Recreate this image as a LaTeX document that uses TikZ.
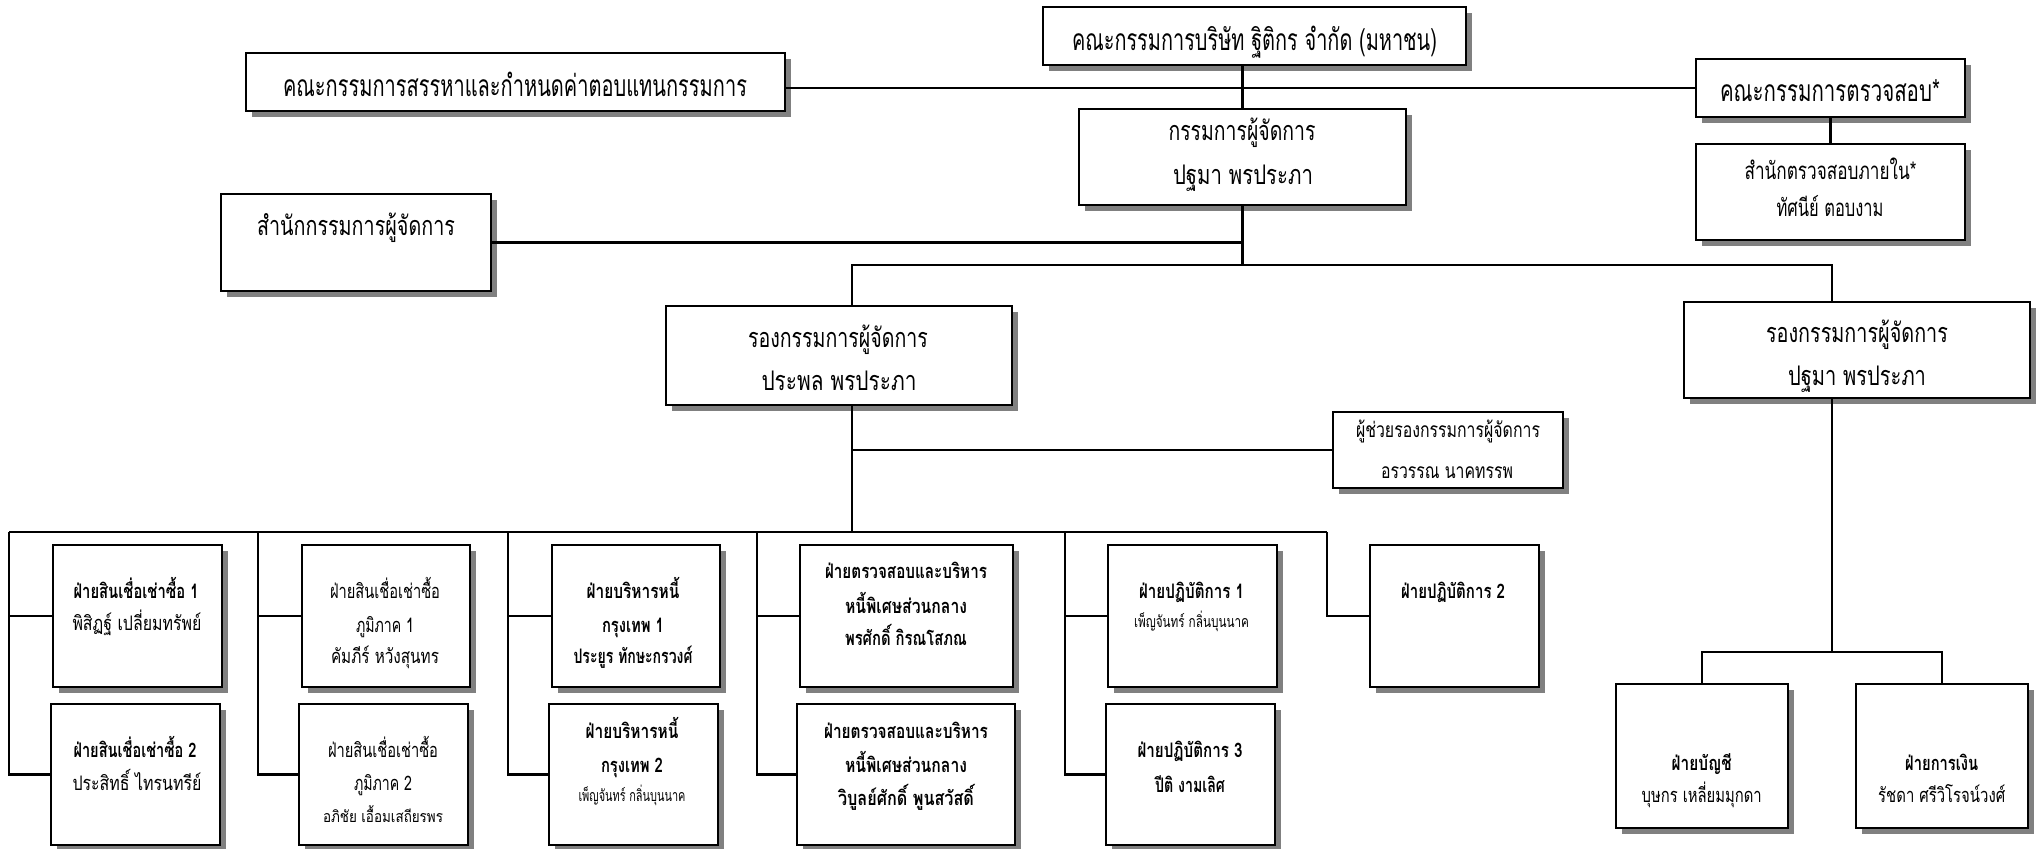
\documentclass[tikz,border=0pt]{standalone}
\usepackage{fontspec}
\usepackage{graphicx}
\usetikzlibrary{shadows}
\newfontfamily\thf[Script=Thai]{Loma}
\newsavebox\tbx
\newlength\tbw
\newcommand\fitto[2]{\sbox\tbx{#2}\setlength\tbw{\wd\tbx}\pgfmathsetmacro\fitr{(#1)/\tbw}\scalebox{\fitr}[1]{\usebox\tbx}}
\newcommand\fA{\thf\fontsize{15}{17}\selectfont}
\newcommand\fB{\thf\fontsize{13.5}{16}\selectfont}
\newcommand\fC{\thf\fontsize{12}{14}\selectfont}
\newcommand\fD{\thf\fontsize{10.5}{12}\selectfont}
\newcommand\fE{\thf\fontsize{10}{12}\selectfont}
\newcommand\fEb{\thf\bfseries\fontsize{10}{12}\selectfont}
\newcommand\fS{\thf\fontsize{8}{10}\selectfont}
\tikzset{
  box/.style={draw, line width=1.3pt, fill=white, inner sep=0pt, outer sep=0pt,
    drop shadow={shadow xshift=3pt, shadow yshift=-3pt, fill=black!50, opacity=1}},
  lbl/.style={inner sep=0pt, outer sep=0pt, anchor=base},
  conn/.style={line width=1.1pt}
}
\begin{document}
\begin{tikzpicture}[x=0.5pt,y=-0.5pt]
\useasboundingbox (0,0) rectangle (2038,848);
% junction coordinates
\coordinate (brL) at (852,265);
\coordinate (brR) at (1832,265);
\coordinate (barC) at (852,532);
\coordinate (cA) at (9,532);
\coordinate (cB) at (258,532);
\coordinate (cC) at (508,532);
\coordinate (cD) at (757,532);
\coordinate (cF) at (1065,532);
\coordinate (cG) at (1327,532);
\coordinate (eJ) at (1832,652);
% boxes (positions)
\path
 (1254.5,36) node[box, minimum width=211.5pt, minimum height=29pt] (board) {}
 (515.5,82) node[box, minimum width=269.5pt, minimum height=29pt] (nom) {}
 (1830.5,88) node[box, minimum width=134.5pt, minimum height=29pt] (aud) {}
 (1830.5,192) node[box, minimum width=134.5pt, minimum height=48pt] (int) {}
 (1242.5,157) node[box, minimum width=163.5pt, minimum height=48pt] (md) {}
 (356,242.5) node[box, minimum width=135pt, minimum height=48.5pt] (off) {}
 (839,355.5) node[box, minimum width=173pt, minimum height=49.5pt] (vpl) {}
 (1857,350) node[box, minimum width=173pt, minimum height=48pt] (vpr) {}
 (1448,450) node[box, minimum width=115pt, minimum height=38pt] (asst) {};
% connectors (drawn before lower boxes)
\draw[conn] (md.north) -- (md.north |- board.south);
\draw[conn] (nom.east |- aud.west) -- (aud.west);
\draw[conn] (aud.south) -- (int.north);
\draw[conn] (md.south) -- (md.south |- brL);
\draw[conn] (off.east) -- (off.east -| md.south);
\draw[conn] (brL |- vpl.north) -- (brL) -- (brR) -- (brR |- vpr.north);
\draw[conn] (brL |- vpl.south) -- (barC);
\draw[conn] (asst.west -| barC) -- (asst.west);
\draw[conn] (cA) -- (cG);
\draw[conn] (vpr.south -| brR) -- (eJ);
% lower boxes
\path
 (137.5,616) node[box, minimum width=84.5pt, minimum height=71pt] (a1) {}
 (135.5,774.5) node[box, minimum width=84.5pt, minimum height=70.5pt] (a2) {}
 (386,616) node[box, minimum width=84pt, minimum height=71pt] (b1) {}
 (383.5,774.5) node[box, minimum width=84.5pt, minimum height=70.5pt] (b2) {}
 (636,616) node[box, minimum width=84pt, minimum height=71pt] (c1) {}
 (633.5,774.5) node[box, minimum width=84.5pt, minimum height=70.5pt] (c2) {}
 (906.5,616) node[box, minimum width=106.5pt, minimum height=71pt] (d1) {}
 (906,774.5) node[box, minimum width=109pt, minimum height=70.5pt] (d2) {}
 (1192.5,616) node[box, minimum width=84.5pt, minimum height=71pt] (f1) {}
 (1190.5,774.5) node[box, minimum width=84.5pt, minimum height=70.5pt] (f2) {}
 (1454.5,616) node[box, minimum width=84.5pt, minimum height=71pt] (g) {}
 (1702,756) node[box, minimum width=86pt, minimum height=72pt] (e1) {}
 (1942,756) node[box, minimum width=86pt, minimum height=72pt] (e2) {};
% column connectors
\foreach \c/\u/\l in {cA/a1/a2, cB/b1/b2, cC/c1/c2, cD/d1/d2, cF/f1/f2}{
  \draw[conn] (\c) -- (\c |- \l.west) -- (\l.west);
  \draw[conn] (\c |- \u.west) -- (\u.west);
}
\draw[conn] (cG) -- (cG |- g.west) -- (g.west);
\draw[conn] (e1.north) -- (e1.north |- eJ) -- (e2.north |- eJ) -- (e2.north);
% texts
\node[lbl] (t-board) at (1254.5,50) {\fitto{182.5pt}{\fA คณะกรรมการบริษัท ฐิติกร จำกัด (มหาชน)}};
\node[lbl] (t-nom) at (515,96) {\fitto{232pt}{\fA คณะกรรมการสรรหาและกำหนดค่าตอบแทนกรรมการ}};
\node[lbl] (t-aud) at (1830,101) {\fitto{110pt}{\fA คณะกรรมการตรวจสอบ*}};
\node[lbl] (t-int1) at (1830.5,179.3) {\fitto{86pt}{\fC สำนักตรวจสอบภายใน*}};
\node[lbl] (t-int2) at (1830,216.3) {\fitto{53.5pt}{\fC ทัศนีย์ ตอบงาม}};
\node[lbl] (t-md1) at (1242,140.1) {\fitto{73.5pt}{\fB กรรมการผู้จัดการ}};
\node[lbl] (t-md2) at (1243,184.1) {\fitto{70pt}{\fB ปฐมา พรประภา}};
\node[lbl] (t-off) at (356,235.1) {\fitto{99pt}{\fB สำนักกรรมการผู้จัดการ}};
\node[lbl] (t-vpl1) at (838,347.1) {\fitto{90pt}{\fB รองกรรมการผู้จัดการ}};
\node[lbl] (t-vpl2) at (839,390.1) {\fitto{77.5pt}{\fB ประพล พรประภา}};
\node[lbl] (t-vpr1) at (1857,342.1) {\fitto{91pt}{\fB รองกรรมการผู้จัดการ}};
\node[lbl] (t-vpr2) at (1857,385.1) {\fitto{69pt}{\fB ปฐมา พรประภา}};
\node[lbl] (t-as1) at (1448,437.6) {\fitto{92pt}{\fD ผู้ช่วยรองกรรมการผู้จัดการ}};
\node[lbl] (t-as2) at (1447,478.6) {\fitto{66pt}{\fD อรวรรณ นาคทรรพ}};
% column A
\node[lbl] (t-a11) at (136,598.3) {\fitto{62.5pt}{\fEb ฝ่ายสินเชื่อเช่าซื้อ 1}};
\node[lbl] (t-a12) at (137,630.3) {\fitto{64.5pt}{\fE พิสิฏฐ์ เปลี่ยมทรัพย์}};
\node[lbl] (t-a21) at (135,757.3) {\fitto{61.5pt}{\fEb ฝ่ายสินเชื่อเช่าซื้อ 2}};
\node[lbl] (t-a22) at (137,790.3) {\fitto{64.5pt}{\fE ประสิทธิ์ ไทรนทรีย์}};
% column B
\node[lbl] (t-b11) at (385,598.3) {\fitto{55pt}{\fE ฝ่ายสินเชื่อเช่าซื้อ}};
\node[lbl] (t-b12) at (385,632.3) {\fitto{29pt}{\fE ภูมิภาค 1}};
\node[lbl] (t-b13) at (385,663.3) {\fitto{54pt}{\fE คัมภีร์ หวังสุนทร}};
\node[lbl] (t-b21) at (383,757.3) {\fitto{55pt}{\fE ฝ่ายสินเชื่อเช่าซื้อ}};
\node[lbl] (t-b22) at (383,790.3) {\fitto{29pt}{\fE ภูมิภาค 2}};
\node[lbl] (t-b23) at (383,822.2) {\fitto{60pt}{\fS อภิชัย เอื้อมเสถียรพร}};
% column C
\node[lbl] (t-c11) at (633,598.3) {\fitto{46.5pt}{\fEb ฝ่ายบริหารหนี้}};
\node[lbl] (t-c12) at (633,632.3) {\fitto{31pt}{\fEb กรุงเทพ 1}};
\node[lbl] (t-c13) at (633,663.3) {\fitto{59.5pt}{\fEb ประยูร ทักษะกรวงศ์}};
\node[lbl] (t-c21) at (632,738.3) {\fitto{46.5pt}{\fEb ฝ่ายบริหารหนี้}};
\node[lbl] (t-c22) at (632,772.3) {\fitto{31pt}{\fEb กรุงเทพ 2}};
\node[lbl] (t-c23) at (632,801.2) {\fitto{53.5pt}{\fS เพ็ญจันทร์ กลิ่นบุนนาค}};
% column D
\node[lbl] (t-d11) at (906,578.3) {\fitto{81pt}{\fEb ฝ่ายตรวจสอบและบริหาร}};
\node[lbl] (t-d12) at (906,613.3) {\fitto{61pt}{\fEb หนี้พิเศษส่วนกลาง}};
\node[lbl] (t-d13) at (906,645.3) {\fitto{61pt}{\fEb พรศักดิ์ กิรณโสภณ}};
\node[lbl] (t-d21) at (906,738.3) {\fitto{82pt}{\fEb ฝ่ายตรวจสอบและบริหาร}};
\node[lbl] (t-d22) at (906,772.3) {\fitto{61pt}{\fEb หนี้พิเศษส่วนกลาง}};
\node[lbl] (t-d23) at (906,805.3) {\fitto{68pt}{\fEb วิบูลย์ศักดิ์ พูนสวัสดิ์}};
% column F, G
\node[lbl] (t-f11) at (1191.5,598.3) {\fitto{52.5pt}{\fEb ฝ่ายปฏิบัติการ 1}};
\node[lbl] (t-f12) at (1191.5,627.2) {\fitto{57.5pt}{\fS เพ็ญจันทร์ กลิ่นบุนนาค}};
\node[lbl] (t-f21) at (1190,757.3) {\fitto{52.5pt}{\fEb ฝ่ายปฏิบัติการ 3}};
\node[lbl] (t-f22) at (1190,792.3) {\fitto{35pt}{\fEb ปีติ งามเลิศ}};
\node[lbl] (t-g1) at (1453,598.3) {\fitto{52pt}{\fEb ฝ่ายปฏิบัติการ 2}};
% column E
\node[lbl] (t-e11) at (1701.7,770.3) {\fitto{30pt}{\fEb ฝ่ายบัญชี}};
\node[lbl] (t-e12) at (1701.7,802.3) {\fitto{60pt}{\fE บุษกร เหลี่ยมมุกดา}};
\node[lbl] (t-e21) at (1941.7,770.3) {\fitto{36.5pt}{\fEb ฝ่ายการเงิน}};
\node[lbl] (t-e22) at (1941.7,802.3) {\fitto{63.5pt}{\fE รัชดา ศรีวิโรจน์วงศ์}};
\end{tikzpicture}
\end{document}
